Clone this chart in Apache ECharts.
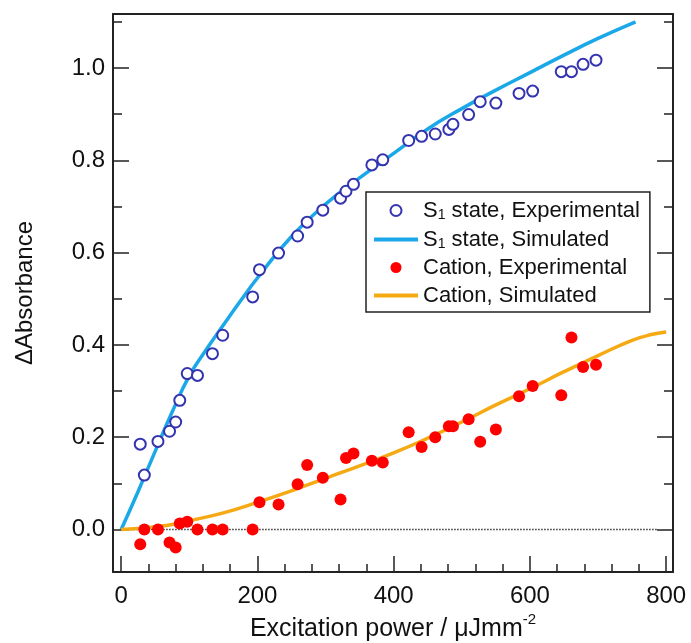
<!DOCTYPE html>
<html>
<head>
<meta charset="utf-8">
<script src="https://cdn.jsdelivr.net/npm/echarts@6.0.0/dist/echarts.min.js"></script>
<style>
  html, body { margin: 0; padding: 0; background: #fff; }
  #main { width: 691px; height: 643px; }
</style>
</head>
<body>
<div id="main"></div>
<script>
// excitation power (µJ/mm²) shared by both measured series
var power = [28, 34, 54, 71, 80, 86, 97, 112, 134, 149, 193, 203, 231, 259, 273, 296, 322, 330, 341,
  368, 384, 422, 441, 461, 481, 487, 510, 527, 550, 584, 604, 646, 661, 678, 697];

var s1Exp = [0.185, 0.118, 0.191, 0.213, 0.233, 0.28, 0.338, 0.334, 0.381, 0.421, 0.504, 0.563, 0.599,
  0.636, 0.666, 0.692, 0.718, 0.733, 0.748, 0.79, 0.801, 0.843, 0.852, 0.857, 0.867, 0.878, 0.899,
  0.927, 0.924, 0.945, 0.95, 0.992, 0.992, 1.008, 1.017];

var cationExp = [-0.032, 0, 0, -0.028, -0.039, 0.013, 0.017, 0, 0, 0, 0, 0.059, 0.054,
  0.098, 0.14, 0.112, 0.065, 0.155, 0.165, 0.149, 0.145, 0.211, 0.179, 0.2, 0.224, 0.224, 0.239,
  0.19, 0.217, 0.289, 0.311, 0.291, 0.416, 0.352, 0.357];

// simulated curves
var s1SimX = [0, 25, 50, 75, 100, 125, 150, 175, 200, 250, 300, 350, 400, 450, 500, 550, 600, 650, 700, 755];
var s1Sim = [0, 0.083, 0.17, 0.255, 0.333, 0.39, 0.443, 0.495, 0.545, 0.635, 0.705, 0.762, 0.815,
  0.868, 0.912, 0.952, 0.99, 1.028, 1.064, 1.10];

var cationSimX = [0, 25, 50, 75, 100, 150, 200, 250, 300, 350, 400, 450, 500, 550, 600, 650, 700, 750, 780, 800];
var cationSim = [0, 0.002, 0.006, 0.011, 0.019, 0.036, 0.059, 0.084, 0.111, 0.138, 0.166, 0.198,
  0.233, 0.27, 0.305, 0.342, 0.377, 0.41, 0.423, 0.428];

// baseline
var zeroX = [0, 787];
var zeroY = [0, 0];

// ticks
var xMajor = [0, 200, 400, 600, 800];
var xMinor = [40, 80, 120, 160, 240, 280, 320, 360, 440, 480, 520, 560, 640, 680, 720, 760];
var yMajor = [0, 0.2, 0.4, 0.6, 0.8, 1.0];
var yMinor = [0.1, 0.3, 0.5, 0.7, 0.9, 1.1];

var names = ['S1 state, Experimental', 'S1 state, Simulated', 'Cation, Experimental', 'Cation, Simulated'];

function zip(xs, ys) {
  return xs.map(function (x, i) { return [x, ys[i]]; });
}

var font = '"Liberation Sans", Arial, sans-serif';
var axisColor = '#222';
var xMin = -12, xMax = 810, yMin = -0.092, yMax = 1.117;

var myChart = echarts.init(document.getElementById('main'));

function xAxisBase(extra) {
  return Object.assign({
    type: 'value', min: xMin, max: xMax,
    splitLine: { show: false },
    axisLine: { show: false, onZero: false },
    axisTick: { show: false },
    axisLabel: { show: false }
  }, extra);
}
function yAxisBase(extra) {
  return Object.assign({
    type: 'value', min: yMin, max: yMax,
    splitLine: { show: false },
    axisLine: { show: false, onZero: false },
    axisTick: { show: false },
    axisLabel: { show: false }
  }, extra);
}

var option = {
  animation: false,
  backgroundColor: '#fff',
  textStyle: { fontFamily: font },
  grid: { left: 113, right: 18, top: 14, bottom: 71, containLabel: false, outerBoundsMode: 'none' },
  legend: {
    // line entries hide the marker, only the stroke is kept
    data: [
      { name: names[0] },
      { name: names[1], itemStyle: { opacity: 0 }, lineStyle: { width: 4 } },
      { name: names[2] },
      { name: names[3], itemStyle: { opacity: 0 }, lineStyle: { width: 4 } }
    ],
    orient: 'vertical',
    left: 366,
    top: 192,
    itemWidth: 44,
    itemHeight: 11,
    itemGap: 5,
    padding: [6, 10, 5, 6],
    borderColor: axisColor,
    borderWidth: 1.5,
    backgroundColor: '#fff',
    textStyle: {
      fontSize: 22, lineHeight: 23, color: '#111', fontFamily: font,
      rich: {
        sub: { fontSize: 14, lineHeight: 14, verticalAlign: 'bottom', padding: [10, 0, 0, 0], fontFamily: font, color: '#111' }
      }
    },
    formatter: function (name) {
      return name.replace('S1', 'S{sub|1}');
    }
  },
  xAxis: [
    xAxisBase({
      position: 'bottom',
      axisLine: { show: true, onZero: false, lineStyle: { color: axisColor, width: 2 } },
      axisTick: { show: true, inside: true, length: 16, customValues: xMajor, lineStyle: { color: axisColor, width: 1.5 } },
      axisLabel: { show: true, customValues: xMajor, fontSize: 24, color: '#111', margin: 12, fontFamily: font },
      name: 'Excitation power / μJmm{sup|-2}',
      nameLocation: 'middle',
      nameGap: 40,
      nameMoveOverlap: false,
      nameTextStyle: {
        fontSize: 25, color: '#111', fontFamily: font, lineHeight: 34,
        rich: { sup: { fontSize: 15, lineHeight: 15, verticalAlign: 'top', color: '#111', fontFamily: font } }
      }
    }),
    xAxisBase({
      position: 'bottom',
      axisTick: { show: true, inside: true, length: 8, customValues: xMinor, lineStyle: { color: axisColor, width: 1.5 } }
    }),
    xAxisBase({
      position: 'top',
      axisLine: { show: true, onZero: false, lineStyle: { color: axisColor, width: 2 } }
    })
  ],
  yAxis: [
    yAxisBase({
      position: 'left',
      axisLine: { show: true, onZero: false, lineStyle: { color: axisColor, width: 2 } },
      axisTick: { show: true, inside: true, length: 16, customValues: yMajor, lineStyle: { color: axisColor, width: 1.5 } },
      axisLabel: {
        show: true, customValues: yMajor, fontSize: 24, color: '#111', margin: 8, fontFamily: font,
        formatter: function (v) { return v.toFixed(1); }
      },
      name: 'ΔAbsorbance',
      nameLocation: 'middle',
      nameGap: 76,
      nameMoveOverlap: false,
      nameTextStyle: { fontSize: 24, color: '#111', fontFamily: font }
    }),
    yAxisBase({
      position: 'left',
      axisTick: { show: true, inside: true, length: 9, customValues: yMinor, lineStyle: { color: axisColor, width: 1.5 } }
    }),
    yAxisBase({
      position: 'right',
      axisLine: { show: true, onZero: false, lineStyle: { color: axisColor, width: 2 } },
      axisTick: { show: true, inside: true, length: 16, customValues: yMajor, lineStyle: { color: axisColor, width: 1.5 } }
    }),
    yAxisBase({
      position: 'right',
      axisTick: { show: true, inside: true, length: 9, customValues: yMinor, lineStyle: { color: axisColor, width: 1.5 } }
    })
  ],
  series: [
    {
      name: 'zero',
      type: 'line',
      data: zip(zeroX, zeroY),
      symbol: 'none',
      z: 1,
      lineStyle: { color: '#333', width: 1.5, type: 'dotted' }
    },
    {
      name: names[1],
      type: 'line',
      data: zip(s1SimX, s1Sim),
      symbol: 'none',
      smooth: true,
      z: 2,
      color: '#1ba8e8',
      lineStyle: { color: '#1ba8e8', width: 3.5 }
    },
    {
      name: names[3],
      type: 'line',
      data: zip(cationSimX, cationSim),
      symbol: 'none',
      smooth: true,
      z: 2,
      color: '#f5aa14',
      lineStyle: { color: '#f5aa14', width: 3.5 }
    },
    {
      name: names[0],
      type: 'scatter',
      data: zip(power, s1Exp),
      symbol: 'emptyCircle',
      symbolSize: 11,
      z: 3,
      itemStyle: { color: '#3434b0', borderWidth: 1.3, opacity: 1 }
    },
    {
      name: names[2],
      type: 'scatter',
      data: zip(power, cationExp),
      symbol: 'circle',
      symbolSize: 12,
      z: 3,
      itemStyle: { color: '#ff0000', opacity: 1 }
    }
  ]
};

myChart.setOption(option);
</script>
</body>
</html>
